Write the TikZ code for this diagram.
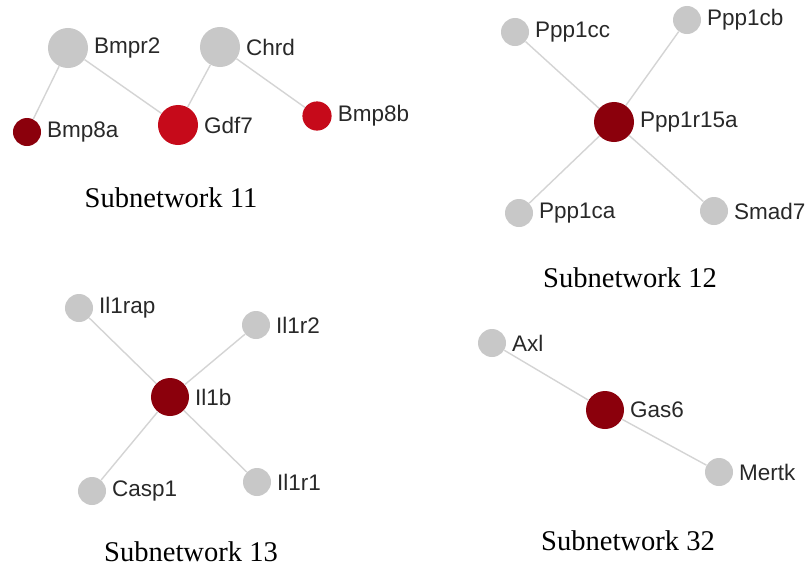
\documentclass[tikz,border=0pt]{standalone}
\usepackage{fontspec}
\setmainfont{Liberation Serif}
\newfontfamily\genefont{Liberation Sans}
\usepackage{tikz}
\usetikzlibrary{positioning}
\definecolor{genegray}{RGB}{200,200,200}
\definecolor{darkhit}{RGB}{139,0,12}
\definecolor{brighthit}{RGB}{198,10,26}
\definecolor{edgegray}{RGB}{212,212,212}
\definecolor{labelgray}{RGB}{40,40,40}
\begin{document}
\begin{tikzpicture}[x=0.025cm,y=-0.025cm,
  gene/.style={circle,fill=genegray,inner sep=0pt,minimum size=0.7cm},
  big/.style={minimum size=1cm},
  dark/.style={fill=darkhit},
  bright/.style={fill=brighthit},
  tag/.style={label={[font=\genefont\fontsize{16}{18}\selectfont,text=labelgray,inner sep=1pt,label distance=3pt]right:#1}},
  title/.style={font=\fontsize{20.3}{24}\selectfont}]
\useasboundingbox (0,0) rectangle (808,566);
% Subnetwork 11
\node[gene,big,tag=Bmpr2] (bmpr2) at (68,48) {};
\node[gene,big,tag=Chrd] (chrd) at (220,47) {};
\node[gene,dark,tag=Bmp8a] (bmp8a) at (27,132) {};
\node[gene,big,bright,tag=Gdf7] (gdf7) at (178,125) {};
\node[gene,bright,minimum size=0.73cm,tag=Bmp8b] (bmp8b) at (317,116) {};
\node[title] (t11) at (171,198) {Subnetwork 11};
% Subnetwork 12
\node[gene,tag=Ppp1cc] (ppp1cc) at (515,32) {};
\node[gene,tag=Ppp1cb] (ppp1cb) at (687,20) {};
\node[gene,big,dark,tag=Ppp1r15a] (ppp1r15a) at (614,122) {};
\node[gene,tag=Ppp1ca] (ppp1ca) at (519,213) {};
\node[gene,tag=Smad7] (smad7) at (714,211) {};
\node[title] (t12) at (630,278) {Subnetwork 12};
% Subnetwork 13
\node[gene,tag=Il1rap] (il1rap) at (79,308) {};
\node[gene,tag=Il1r2] (il1r2) at (256,325) {};
\node[gene,big,dark,minimum size=0.95cm,tag=Il1b] (il1b) at (170,397) {};
\node[gene,tag=Casp1] (casp1) at (92,491) {};
\node[gene,tag=Il1r1] (il1r1) at (257,482) {};
\node[title] (t13) at (191,552) {Subnetwork 13};
% Subnetwork 32
\node[gene,tag=Axl] (axl) at (492,343) {};
\node[gene,big,dark,minimum size=0.95cm,tag=Gas6] (gas6) at (605,410) {};
\node[gene,tag=Mertk] (mertk) at (719,472) {};
\node[title] (t32) at (628,541) {Subnetwork 32};
\path[draw=edgegray,line width=1pt]
(bmpr2) edge (bmp8a)
(bmpr2) edge (gdf7)
(chrd) edge (gdf7)
(chrd) edge (bmp8b)
(ppp1cc) edge (ppp1r15a)
(ppp1cb) edge (ppp1r15a)
(ppp1ca) edge (ppp1r15a)
(smad7) edge (ppp1r15a)
(il1rap) edge (il1b)
(il1r2) edge (il1b)
(casp1) edge (il1b)
(il1r1) edge (il1b)
(axl) edge (gas6)
(gas6) edge (mertk);
\end{tikzpicture}
\end{document}
